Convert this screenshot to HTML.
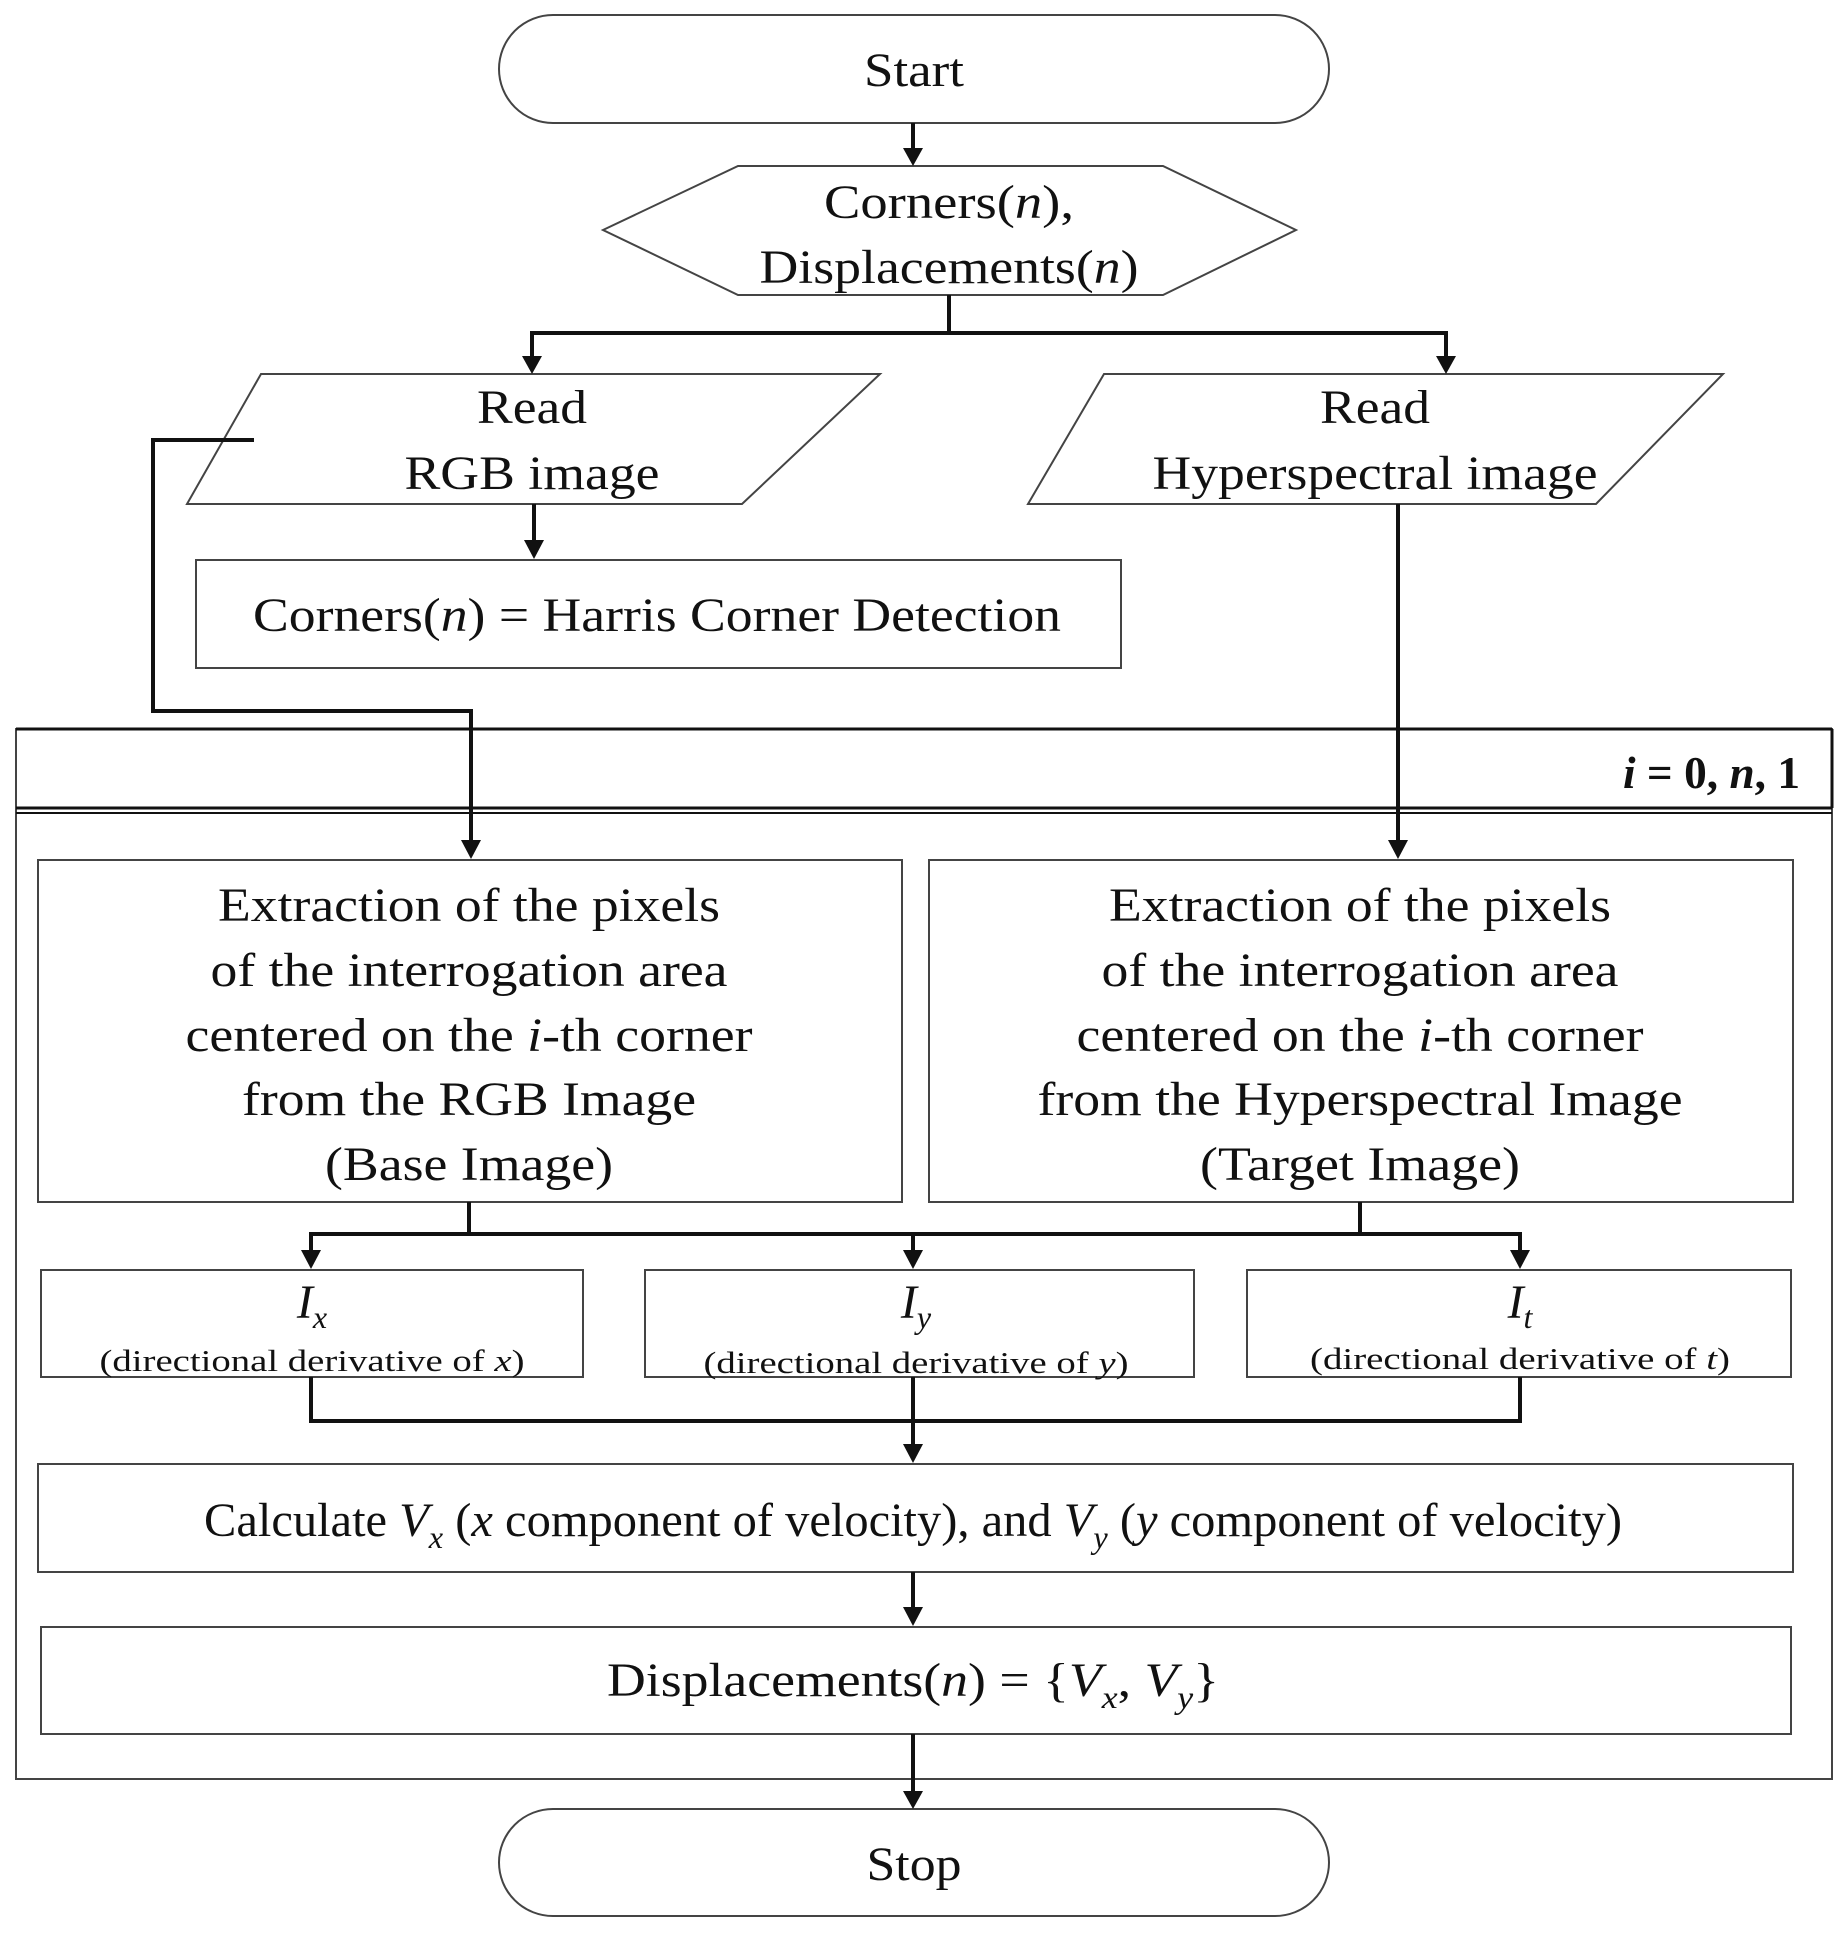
<!DOCTYPE html>
<html><head><meta charset="utf-8"><style>
html,body{margin:0;padding:0;background:#fff;}
svg{display:block;}
text{font-family:"Liberation Serif",serif;fill:#111;}
</style></head><body>
<svg width="1846" height="1933" viewBox="0 0 1846 1933" xmlns="http://www.w3.org/2000/svg">
<defs>
<marker id="a" markerWidth="10" markerHeight="10" refX="5" refY="9" orient="auto" markerUnits="userSpaceOnUse" viewBox="0 0 10 10">
</marker>
</defs>
<g fill="#fff" stroke="#444" stroke-width="2">
<rect x="499" y="15" width="830" height="108" rx="54"/>
<polygon points="603,230 738,166 1163,166 1296,230 1163,295 738,295"/>
<polygon points="261,374 880,374 742,504 187,504"/>
<polygon points="1104,374 1723,374 1596,504 1028,504"/>
<rect x="196" y="560" width="925" height="108"/>
<rect x="16" y="729" width="1816" height="1050"/>
<rect x="38" y="860" width="864" height="342"/>
<rect x="929" y="860" width="864" height="342"/>
<rect x="41" y="1270" width="542" height="107"/>
<rect x="645" y="1270" width="549" height="107"/>
<rect x="1247" y="1270" width="544" height="107"/>
<rect x="38" y="1464" width="1755" height="108"/>
<rect x="41" y="1627" width="1750" height="107"/>
<rect x="499" y="1809" width="830" height="107" rx="54"/>
</g>
<g stroke="#111" fill="none">
<line x1="16" y1="808" x2="1832" y2="808" stroke-width="3"/>
<line x1="16" y1="813" x2="1832" y2="813" stroke-width="2"/>
<line x1="16" y1="729" x2="1832" y2="729" stroke-width="3"/>
<line x1="1832" y1="729" x2="1832" y2="808" stroke-width="3"/>
</g>
<g stroke="#111" stroke-width="4" fill="none">
<line x1="913" y1="123" x2="913" y2="150"/>
<polyline points="949,295 949,333"/>
<polyline points="532,358 532,333 1446,333 1446,358"/>
<line x1="534" y1="504" x2="534" y2="540"/>
<polyline points="254,440 153,440 153,711 471,711 471,842"/>
<line x1="1398" y1="504" x2="1398" y2="842"/>
<polyline points="469,1202 469,1234"/>
<polyline points="1360,1202 1360,1234"/>
<polyline points="311,1252 311,1234 1520,1234 1520,1252"/>
<line x1="913" y1="1234" x2="913" y2="1252"/>
<polyline points="311,1377 311,1421 1520,1421 1520,1377"/>
<line x1="913" y1="1377" x2="913" y2="1446"/>
<line x1="913" y1="1572" x2="913" y2="1609"/>
<line x1="913" y1="1734" x2="913" y2="1793"/>
</g>
<g fill="#111">
<polygon points="903,148 923,148 913,166"/>
<polygon points="522,356 542,356 532,374"/>
<polygon points="1436,356 1456,356 1446,374"/>
<polygon points="524,540 544,540 534,559"/>
<polygon points="461,840 481,840 471,859"/>
<polygon points="1388,840 1408,840 1398,859"/>
<polygon points="301,1250 321,1250 311,1269"/>
<polygon points="903,1250 923,1250 913,1269"/>
<polygon points="1510,1250 1530,1250 1520,1269"/>
<polygon points="903,1444 923,1444 913,1463"/>
<polygon points="903,1607 923,1607 913,1626"/>
<polygon points="903,1791 923,1791 913,1809"/>
</g>
<g font-size="48" text-anchor="middle">
<text x="914" y="86" textLength="100" lengthAdjust="spacingAndGlyphs">Start</text>
<text x="949" y="218" textLength="250" lengthAdjust="spacingAndGlyphs">Corners(<tspan font-style="italic">n</tspan>),</text>
<text x="949" y="283" textLength="379" lengthAdjust="spacingAndGlyphs">Displacements(<tspan font-style="italic">n</tspan>)</text>
<text x="532" y="423" textLength="110" lengthAdjust="spacingAndGlyphs">Read</text>
<text x="532" y="489" textLength="255" lengthAdjust="spacingAndGlyphs">RGB image</text>
<text x="1375" y="423" textLength="110" lengthAdjust="spacingAndGlyphs">Read</text>
<text x="1375" y="489" textLength="445" lengthAdjust="spacingAndGlyphs">Hyperspectral image</text>
<text x="657" y="631" textLength="808" lengthAdjust="spacingAndGlyphs">Corners(<tspan font-style="italic">n</tspan>) = Harris Corner Detection</text>
<text x="469" y="921" textLength="502" lengthAdjust="spacingAndGlyphs">Extraction of the pixels</text>
<text x="469" y="986" textLength="517" lengthAdjust="spacingAndGlyphs">of the interrogation area</text>
<text x="469" y="1051" textLength="567" lengthAdjust="spacingAndGlyphs">centered on the <tspan font-style="italic">i</tspan>-th corner</text>
<text x="469" y="1115" textLength="454" lengthAdjust="spacingAndGlyphs">from the RGB Image</text>
<text x="469" y="1180" textLength="288" lengthAdjust="spacingAndGlyphs">(Base Image)</text>
<text x="1360" y="921" textLength="502" lengthAdjust="spacingAndGlyphs">Extraction of the pixels</text>
<text x="1360" y="986" textLength="517" lengthAdjust="spacingAndGlyphs">of the interrogation area</text>
<text x="1360" y="1051" textLength="567" lengthAdjust="spacingAndGlyphs">centered on the <tspan font-style="italic">i</tspan>-th corner</text>
<text x="1360" y="1115" textLength="645" lengthAdjust="spacingAndGlyphs">from the Hyperspectral Image</text>
<text x="1360" y="1180" textLength="320" lengthAdjust="spacingAndGlyphs">(Target Image)</text>
<text x="913" y="1536" textLength="1418" lengthAdjust="spacingAndGlyphs">Calculate <tspan font-style="italic">V<tspan font-size="32" dy="12">x</tspan></tspan><tspan dy="-12"> (</tspan><tspan font-style="italic">x</tspan> component of velocity), and <tspan font-style="italic">V<tspan font-size="32" dy="12">y</tspan></tspan><tspan dy="-12"> (</tspan><tspan font-style="italic">y</tspan> component of velocity)</text>
<text x="913" y="1696" textLength="612" lengthAdjust="spacingAndGlyphs">Displacements(<tspan font-style="italic">n</tspan>) = {<tspan font-style="italic">V<tspan font-size="32" dy="12">x</tspan></tspan><tspan dy="-12">, </tspan><tspan font-style="italic">V<tspan font-size="32" dy="12">y</tspan></tspan><tspan dy="-12">}</tspan></text>
<text x="914" y="1880" textLength="95" lengthAdjust="spacingAndGlyphs">Stop</text>
<text x="312" y="1318" font-style="italic">I<tspan font-size="32" dy="10">x</tspan></text>
<text x="916" y="1318" font-style="italic">I<tspan font-size="32" dy="10">y</tspan></text>
<text x="1520" y="1318" font-style="italic">I<tspan font-size="32" dy="10">t</tspan></text>
</g>
<g font-size="31" text-anchor="middle">
<text x="312" y="1371" textLength="425" lengthAdjust="spacingAndGlyphs">(directional derivative of <tspan font-style="italic">x</tspan>)</text>
<text x="916" y="1373" textLength="425" lengthAdjust="spacingAndGlyphs">(directional derivative of <tspan font-style="italic">y</tspan>)</text>
<text x="1520" y="1369" textLength="420" lengthAdjust="spacingAndGlyphs">(directional derivative of <tspan font-style="italic">t</tspan>)</text>
</g>
<text x="1800" y="788" font-size="46" font-weight="bold" text-anchor="end" textLength="177" lengthAdjust="spacingAndGlyphs"><tspan font-style="italic">i</tspan> = 0, <tspan font-style="italic">n</tspan>, 1</text>
</svg>
</body></html>
